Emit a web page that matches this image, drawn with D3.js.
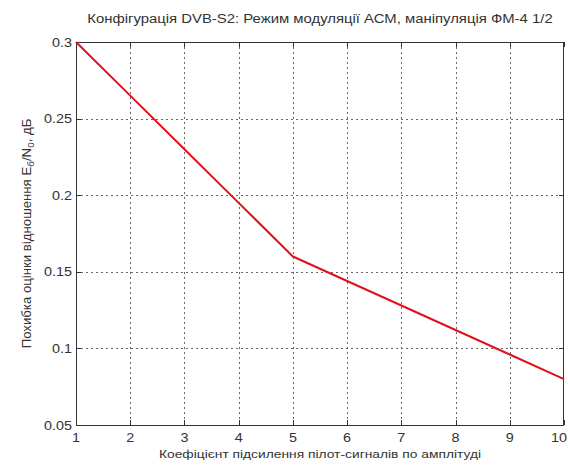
<!DOCTYPE html>
<html>
<head>
<meta charset="utf-8">
<script src="https://cdn.jsdelivr.net/npm/d3@7"></script>
<style>
  html, body { margin: 0; padding: 0; background: #fff; }
  svg { display: block; font-family: "Liberation Sans", Arial, sans-serif; }
</style>
</head>
<body>
<svg id="chart" width="568" height="467"></svg>
<script>
// Pilot gain factor (x) and Eb/N0 estimation error, dB (y)
const gainFactors = [1, 2, 3, 4, 5, 6, 7, 8, 9, 10];
const estimationError = [0.3, 0.265, 0.23, 0.195, 0.16, 0.144, 0.128, 0.112, 0.096, 0.08];
const xTicks = [1, 2, 3, 4, 5, 6, 7, 8, 9, 10];
const yTicks = [0.05, 0.1, 0.15, 0.2, 0.25, 0.3];
const yTickLabels = ["0.05", "0.1", "0.15", "0.2", "0.25", "0.3"];

const titleText = "Конфігурація DVB-S2: Режим модуляції АСМ, маніпуляція ФМ-4 1/2";
const xLabelText = "Коефіцієнт підсилення пілот-сигналів по амплітуді";

const svg = d3.select("#chart");
const m = { left: 76, right: 4, top: 42, bottom: 42 };
const W = 568, H = 467;
const x = d3.scaleLinear().domain([1, 10]).range([m.left, W - m.right]);
const y = d3.scaleLinear().domain([0.05, 0.3]).range([H - m.bottom, m.top]);

const x0 = x.range()[0], x1 = x.range()[1];
const y0 = y.range()[0], y1 = y.range()[1];
const ink = "#333";

// widen glyphs horizontally (the chart's lettering is a broad face)
function widen(sel, k) {
  sel.each(function () {
    const len = this.getComputedTextLength();
    d3.select(this).attr("textLength", len * k).attr("lengthAdjust", "spacingAndGlyphs");
  });
}

// dotted grid
const grid = svg.append("g").attr("stroke", "#444").attr("stroke-width", 1)
  .attr("stroke-dasharray", "2,3").attr("opacity", 0.8);
grid.selectAll("line.gx").data(xTicks.slice(1, -1)).join("line")
  .attr("x1", d => Math.round(x(d)) + 0.5).attr("x2", d => Math.round(x(d)) + 0.5)
  .attr("y1", y1).attr("y2", y0);
grid.selectAll("line.gy").data(yTicks.slice(1, -1)).join("line")
  .attr("y1", d => Math.round(y(d)) + 0.5).attr("y2", d => Math.round(y(d)) + 0.5)
  .attr("x1", x0).attr("x2", x1);

// inward ticks on all four sides
const tickLen = 5;
const tk = svg.append("g").attr("stroke", ink).attr("stroke-width", 1);
xTicks.forEach(d => {
  const px = Math.round(x(d)) + 0.5;
  tk.append("line").attr("x1", px).attr("x2", px).attr("y1", y0).attr("y2", y0 - tickLen);
  tk.append("line").attr("x1", px).attr("x2", px).attr("y1", y1).attr("y2", y1 + tickLen);
});
yTicks.forEach(d => {
  const py = Math.round(y(d)) + 0.5;
  tk.append("line").attr("x1", x0).attr("x2", x0 + tickLen).attr("y1", py).attr("y2", py);
  tk.append("line").attr("x1", x1).attr("x2", x1 - tickLen).attr("y1", py).attr("y2", py);
});

// box
svg.append("rect").attr("x", x0 + 0.5).attr("y", y1 + 0.5)
  .attr("width", x1 - x0 - 1).attr("height", y0 - y1)
  .attr("fill", "none").attr("stroke", ink).attr("stroke-width", 1);

// tick labels
const fs = 12.5;
const last = xTicks[xTicks.length - 1];
svg.append("g").selectAll("text").data(xTicks).join("text")
  .attr("x", d => d === last ? W - 1 : x(d)).attr("y", y0 + 17)
  .attr("text-anchor", d => d === last ? "end" : "middle")
  .attr("font-size", fs).attr("fill", ink)
  .text(d => d)
  .call(widen, 1.15);
svg.append("g").selectAll("text").data(yTicks).join("text")
  .attr("x", x0 - 4).attr("y", d => y(d) + 4.5)
  .attr("text-anchor", "end").attr("font-size", fs).attr("fill", ink)
  .text((d, i) => yTickLabels[i])
  .call(widen, 1.15);

// data line
const line = d3.line().x((d, i) => x(gainFactors[i])).y(d => y(d));
svg.append("path").datum(estimationError)
  .attr("d", line).attr("fill", "none")
  .attr("stroke", "#e2101c").attr("stroke-width", 2).attr("stroke-linejoin", "round");

// title and axis labels
svg.append("text").attr("x", (x0 + x1) / 2).attr("y", 23)
  .attr("text-anchor", "middle").attr("font-size", 12).attr("fill", ink)
  .text(titleText)
  .call(widen, 1.24);
svg.append("text").attr("x", (x0 + x1) / 2).attr("y", 458)
  .attr("text-anchor", "middle").attr("font-size", 11.5).attr("fill", ink)
  .text(xLabelText)
  .call(widen, 1.2);

const yl = svg.append("text")
  .attr("transform", `translate(31,${(y0 + y1) / 2}) rotate(-90) scale(1.1,1)`)
  .attr("text-anchor", "middle").attr("font-size", 12).attr("fill", ink);
yl.append("tspan").text("Похибка оцінки відношення E");
yl.append("tspan").attr("font-size", 9).attr("dy", 3).text("б");
yl.append("tspan").attr("dy", -3).text("/N");
yl.append("tspan").attr("font-size", 9).attr("dy", 3).text("0");
yl.append("tspan").attr("dy", -3).text(", дБ");
</script>
</body>
</html>
